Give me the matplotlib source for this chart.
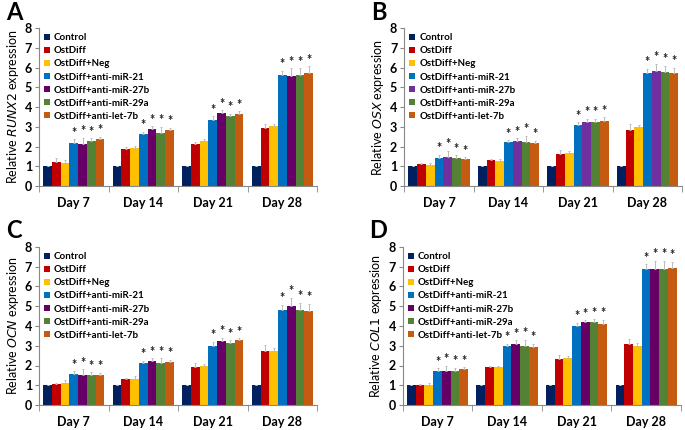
import numpy as np
import matplotlib
matplotlib.use("Agg")
import matplotlib.pyplot as plt

plt.rcParams['font.family'] = ['Lato', 'DejaVu Sans']

days = ["Day 7", "Day 14", "Day 21", "Day 28"]
groups = ["Control", "OstDiff", "OstDiff+Neg", "OstDiff+anti-miR-21",
          "OstDiff+anti-miR-27b", "OstDiff+anti-miR-29a", "OstDiff+anti-let-7b"]

# valores por dia (filas) y grupo (columnas)
runx2 = [[1, 1.20, 1.18, 2.20, 2.15, 2.27, 2.40],
         [1, 1.90, 1.92, 2.65, 2.88, 2.70, 2.85],
         [1, 2.13, 2.27, 3.33, 3.68, 3.55, 3.65],
         [1, 2.93, 3.03, 5.63, 5.58, 5.62, 5.72]]
runx2_err = [[0, 0.20, 0.15, 0.18, 0.30, 0.15, 0.10],
             [0, 0.08, 0.12, 0.10, 0.15, 0.30, 0.10],
             [0, 0.12, 0.10, 0.20, 0.15, 0.12, 0.15],
             [0, 0.20, 0.10, 0.20, 0.40, 0.35, 0.35]]

osx = [[1, 1.10, 1.05, 1.45, 1.50, 1.42, 1.38],
       [1, 1.30, 1.27, 2.22, 2.30, 2.25, 2.20],
       [1, 1.62, 1.67, 3.10, 3.27, 3.27, 3.28],
       [1, 2.82, 2.97, 5.72, 5.80, 5.75, 5.70]]
osx_err = [[0, 0.05, 0.12, 0.15, 0.30, 0.15, 0.08],
           [0, 0.05, 0.12, 0.10, 0.12, 0.30, 0.10],
           [0, 0.20, 0.10, 0.15, 0.15, 0.15, 0.20],
           [0, 0.30, 0.12, 0.22, 0.40, 0.35, 0.30]]

ocn = [[1, 1.07, 1.13, 1.55, 1.52, 1.52, 1.53],
       [1, 1.30, 1.33, 2.12, 2.25, 2.12, 2.20],
       [1, 1.90, 2.00, 3.00, 3.25, 3.12, 3.27],
       [1, 2.75, 2.75, 4.83, 5.03, 4.82, 4.78]]
ocn_err = [[0, 0.05, 0.12, 0.15, 0.30, 0.15, 0.10],
           [0, 0.05, 0.12, 0.12, 0.12, 0.25, 0.10],
           [0, 0.25, 0.10, 0.20, 0.15, 0.15, 0.12],
           [0, 0.30, 0.15, 0.25, 0.40, 0.35, 0.35]]

col1 = [[1, 1.02, 1.02, 1.70, 1.70, 1.73, 1.80],
        [1, 1.92, 1.90, 3.00, 3.07, 3.00, 2.95],
        [1, 2.32, 2.38, 4.02, 4.20, 4.22, 4.12],
        [1, 3.10, 3.00, 6.87, 6.90, 6.90, 6.95]]
col1_err = [[0, 0.05, 0.12, 0.15, 0.30, 0.15, 0.12],
            [0, 0.05, 0.10, 0.10, 0.20, 0.30, 0.15],
            [0, 0.20, 0.10, 0.15, 0.10, 0.12, 0.20],
            [0, 0.25, 0.12, 0.25, 0.40, 0.40, 0.30]]

colors = ["#002060", "#C00000", "#FFC000", "#0070C0", "#660066", "#548235", "#C55A11"]

fig = plt.figure(figsize=(6.85, 4.30), dpi=100)

paneles = [("A", "RUNX2", runx2, runx2_err, [0.057, 0.567, 0.406, 0.368], "#660066"),
           ("B", "OSX", osx, osx_err, [0.590, 0.567, 0.406, 0.368], "#7030A0"),
           ("C", "OCN", ocn, ocn_err, [0.057, 0.058, 0.406, 0.368], "#660066"),
           ("D", "COL1", col1, col1_err, [0.588, 0.058, 0.406, 0.368], "#660066")]

NG = len(groups)
w = 0.88 / NG
x = np.arange(len(days))

for letra, gen, vals, errs, pos, purp in paneles:
    ax = fig.add_axes(pos)
    vals = np.array(vals)
    errs = np.array(errs)
    cols = list(colors)
    cols[4] = purp
    for g in range(NG):
        xs = x - 0.44 + w * (g + 0.5)
        ax.bar(xs, vals[:, g], width=w, color=cols[g], label=groups[g], zorder=2)
        ax.errorbar(xs, vals[:, g], yerr=[np.zeros(len(days)), errs[:, g]], fmt='none',
                    ecolor='#BBBBBB', elinewidth=0.7, capsize=1.0, capthick=0.7, zorder=3)
        if g >= 3:
            for i in range(len(days)):
                ax.text(xs[i], vals[i, g] + errs[i, g] + 0.02, "*", ha='center', va='bottom',
                        fontsize=9, fontweight='bold', color='#222222')
    ax.set_xlim(-0.5, 3.5)
    ax.set_ylim(0, 8)
    ax.set_yticks(range(0, 9))
    ax.set_xticks(x)
    ax.set_xticklabels(days, fontsize=9, fontweight='bold')
    ax.set_xticks(np.arange(-0.5, 4, 1), minor=True)
    ax.tick_params(axis='x', which='major', length=0, pad=8)
    ax.tick_params(axis='x', which='minor', length=4, color='#888888', direction='out')
    ax.tick_params(axis='y', length=3, color='#888888', labelsize=9, pad=2)
    for t in ax.get_yticklabels():
        t.set_fontweight('bold')
    for s in ['top', 'right']:
        ax.spines[s].set_visible(False)
    for s in ['left', 'bottom']:
        ax.spines[s].set_color('#888888')
        ax.spines[s].set_linewidth(0.8)
    ax.set_ylabel("Relative $\\mathit{" + gen + "}$ expression", fontsize=9, labelpad=3)
    ax.legend(loc='upper left', frameon=False, handlelength=0.6,
              handleheight=0.6, handletextpad=0.4, labelspacing=0.42,
              borderaxespad=0.15, prop={'size': 7, 'weight': 'bold'})
    ax.text(-0.12, 1.1, letra, transform=ax.transAxes, fontsize=17, fontweight='bold',
            ha='left', va='center')

fig.savefig("out.png", dpi=100)
